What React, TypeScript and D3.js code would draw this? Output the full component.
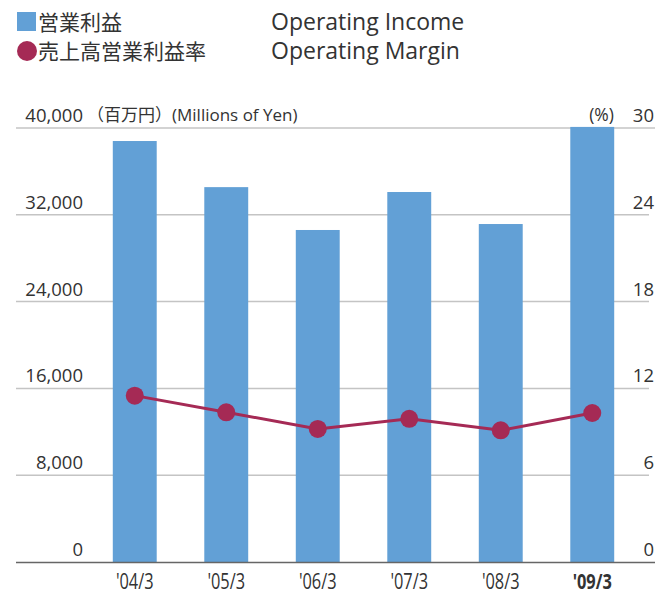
import React, { useEffect, useRef } from "react";
import * as d3 from "d3";

const categories = ["'04/3", "'05/3", "'06/3", "'07/3", "'08/3", "'09/3"];
const operatingIncome = [38800, 34550, 30600, 34100, 31150, 40100];
const operatingMargin = [11.5, 10.35, 9.2, 9.9, 9.1, 10.3];
const leftTicks = [0, 8000, 16000, 24000, 32000, 40000];
const rightTicks = [0, 6, 12, 18, 24, 30];

const BLUE = "#62a0d6";
const MAROON = "#a52a55";
const FONT = "'Open Sans', 'Noto Sans CJK JP', sans-serif";
const TEXT = "#333";

const App = () => {
  const ref = useRef<SVGSVGElement>(null);

  useEffect(() => {
    const width = 655;
    const height = 596;
    const svg = d3.select(ref.current).attr("width", width).attr("height", height);
    svg.selectAll("*").remove();

    const x = d3
      .scaleBand()
      .domain(categories)
      .range([89, 638])
      .paddingInner(0.52)
      .paddingOuter(0.26);
    const y = d3.scaleLinear().domain([0, 40000]).range([562, 128]);
    const y2 = d3.scaleLinear().domain([0, 30]).range([562, 128]);
    const cx = (i: number) => x(categories[i])! + x.bandwidth() / 2;

    // gridlines
    svg
      .append("g")
      .selectAll("line")
      .data(leftTicks.filter((d) => d > 0))
      .join("line")
      .attr("x1", 16)
      .attr("x2", (d) => (d === 40000 ? width : 649))
      .attr("y1", (d) => y(d))
      .attr("y2", (d) => y(d))
      .attr("stroke", "#c4c4c4")
      .attr("stroke-width", 1.5);

    // bars
    svg
      .append("g")
      .selectAll("rect")
      .data(operatingIncome)
      .join("rect")
      .attr("x", (d, i) => x(categories[i])!)
      .attr("y", (d) => y(d))
      .attr("width", x.bandwidth())
      .attr("height", (d) => y(0) - y(d))
      .attr("fill", BLUE);

    // baseline
    svg
      .append("line")
      .attr("x1", 16)
      .attr("x2", width)
      .attr("y1", y(0) + 0.5)
      .attr("y2", y(0) + 0.5)
      .attr("stroke", "#666")
      .attr("stroke-width", 1.5);

    // left axis labels
    svg
      .append("g")
      .selectAll("text")
      .data(leftTicks)
      .join("text")
      .attr("x", 83)
      .attr("y", (d) => y(d) - 6)
      .attr("text-anchor", "end")
      .attr("font-family", FONT)
      .attr("font-size", 18.5)
      .attr("fill", TEXT)
      .text((d) => d3.format(",")(d));

    svg
      .append("text")
      .attr("x", 87)
      .attr("y", y(40000) - 7)
      .attr("font-family", FONT)
      .attr("font-size", 17)
      .attr("fill", TEXT)
      .text("（百万円）(Millions of Yen)");

    // right axis labels
    svg
      .append("g")
      .selectAll("text")
      .data(rightTicks)
      .join("text")
      .attr("x", 654)
      .attr("y", (d) => y2(d) - 6)
      .attr("text-anchor", "end")
      .attr("font-family", FONT)
      .attr("font-size", 18.5)
      .attr("fill", TEXT)
      .text((d) => d);

    svg
      .append("text")
      .attr("x", 614)
      .attr("y", y2(30) - 7)
      .attr("text-anchor", "end")
      .attr("font-family", FONT)
      .attr("font-size", 17.5)
      .attr("fill", TEXT)
      .text("(%)");

    // x labels (condensed look)
    svg
      .append("g")
      .selectAll("text")
      .data(categories)
      .join("text")
      .attr("transform", (d, i) => `translate(${cx(i)},589) scale(0.78,1)`)
      .attr("text-anchor", "middle")
      .attr("font-family", FONT)
      .attr("font-size", 21)
      .attr("font-weight", (d, i) => (i === categories.length - 1 ? 700 : 400))
      .attr("fill", TEXT)
      .text((d) => d);

    // margin line
    const line = d3
      .line<number>()
      .x((d, i) => cx(i))
      .y((d) => y2(d));

    svg
      .append("path")
      .datum(operatingMargin)
      .attr("fill", "none")
      .attr("stroke", MAROON)
      .attr("stroke-width", 3)
      .attr("d", line);

    svg
      .append("g")
      .selectAll("circle")
      .data(operatingMargin)
      .join("circle")
      .attr("cx", (d, i) => cx(i))
      .attr("cy", (d) => y2(d))
      .attr("r", 9)
      .attr("fill", MAROON);

    // legend
    const legend = svg.append("g");
    legend.append("rect").attr("x", 17).attr("y", 12).attr("width", 19).attr("height", 19).attr("fill", BLUE);
    legend.append("circle").attr("cx", 27).attr("cy", 51).attr("r", 10).attr("fill", MAROON);
    const rows = [
      { ja: "営業利益", en: "Operating Income", y: 30 },
      { ja: "売上高営業利益率", en: "Operating Margin", y: 59 },
    ];
    rows.forEach((r) => {
      legend
        .append("text")
        .attr("x", 38)
        .attr("y", r.y)
        .attr("font-family", FONT)
        .attr("font-size", 21)
        .attr("fill", TEXT)
        .text(r.ja);
      legend
        .append("text")
        .attr("x", 271)
        .attr("y", r.y)
        .attr("font-family", FONT)
        .attr("font-size", 23)
        .attr("fill", TEXT)
        .text(r.en);
    });
  }, []);

  return (
    <div style={{ position: "absolute", left: 0, top: 0 }}>
      <svg ref={ref}></svg>
    </div>
  );
};

export default App;
